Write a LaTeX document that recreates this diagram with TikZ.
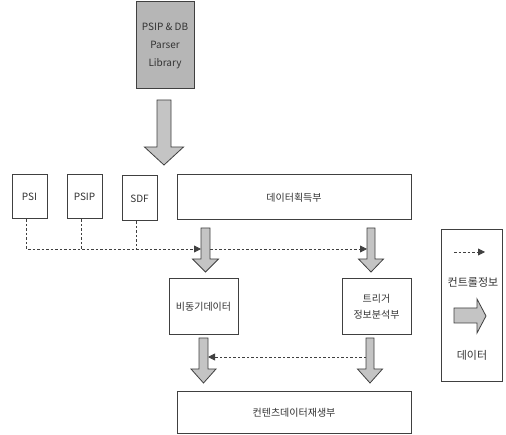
\documentclass[tikz,border=0pt]{standalone}
\usepackage{fontspec}
\setmainfont{Noto Sans CJK KR}
\usetikzlibrary{arrows.meta,calc}
\definecolor{ln}{HTML}{404040}
\definecolor{tx}{HTML}{333333}
\definecolor{gfill}{HTML}{C4C4C4}
\definecolor{libfill}{HTML}{B6B6B6}
\newcommand\garrowdown[6]{%
  \draw[garrow] ({#1-#5},#2) -- ({#1+#5},#2) -- ({#1+#5},#3) -- ({#1+#6},#3) -- (#1,#4) -- ({#1-#6},#3) -- ({#1-#5},#3) -- cycle;}
\begin{document}
\begin{tikzpicture}[x=1pt,y=-1pt,
  box/.style={draw=ln, line width=1pt, fill=white, inner sep=0pt, text=tx,
    font=\fontsize{10}{16}\selectfont, align=center},
  dline/.style={draw=ln, line width=0.8pt, dash pattern=on 2.5pt off 2pt},
  ctl/.style={dline, -{Triangle[length=7pt,width=7pt]}},
  garrow/.style={draw=ln, line width=0.8pt, fill=gfill, line join=miter},
  lbl/.style={text=tx, font=\fontsize{11}{13}\selectfont, inner sep=0pt}]
\useasboundingbox (0,0) rectangle (506,435);
% library
\node[box, fill=libfill, minimum width=58pt, minimum height=87pt, font=\fontsize{10}{18}\selectfont] (lib) at (165,45.5) {PSIP \& DB\\Parser\\Library};
% top row
\node[box, minimum width=35pt, minimum height=44pt] (psi) at (29.5,197) {PSI};
\node[box, minimum width=35pt, minimum height=44pt] (psip) at (84.5,197) {PSIP};
\node[box, minimum width=35pt, minimum height=45pt] (sdf) at (139.5,198.5) {SDF};
\node[box, minimum width=234pt, minimum height=45pt] (acq) at (294,197.5) {데이터획득부};
% middle row
\node[box, minimum width=69pt, minimum height=56pt] (async) at (203.5,307) {비동기데이터};
\node[box, minimum width=69pt, minimum height=56pt] (trig) at (376.5,307) {트리거\\정보분석부};
% bottom
\node[box, minimum width=234pt, minimum height=41pt] (play) at (294,412.5) {컨텐츠데이터재생부};
% legend
\node[box, minimum width=61pt, minimum height=152pt] (leg) at (471.5,306) {};
\node[lbl] (legc) at (473,282) {컨트롤정보};
\node[lbl] (legd) at (472,355) {데이터};
\coordinate (lg1) at (454,252);
\coordinate (lg2) at (485,252);
\draw[ctl] (lg1) -- (lg2);
\draw[garrow] (454,308) -- (477,308) -- (477,299) -- (486,316) -- (477,333) -- (477,323) -- (454,323) -- cycle;
% control lines
\coordinate (psiq) at ($(psi.south)+(-3.5,0)$);
\coordinate (psipq) at ($(psip.south)+(-3.5,0)$);
\coordinate (sdfq) at ($(sdf.south)+(-3.5,0)$);
\coordinate (ja) at (201,249);
\coordinate (jb) at (210,249);
\coordinate (jc) at (367,249);
\draw[ctl] (psiq) |- (ja);
\draw[dline] (psipq) -- (psipq |- ja);
\draw[dline] (sdfq) -- (sdfq |- ja);
\draw[ctl] (jb) -- (jc);
\coordinate (jd) at (366,357);
\coordinate (je) at (208,357);
\draw[ctl] (jd) -- (je);
% data arrows
\garrowdown{164}{100}{147}{165}{7}{19.5}
\garrowdown{205.5}{228}{259}{272}{4.5}{13}
\garrowdown{371}{228}{259}{272}{4}{12.5}
\garrowdown{203.5}{338}{369}{383}{4.5}{12.5}
\garrowdown{370}{338}{369}{383}{4}{12.5}
\end{tikzpicture}
\end{document}
